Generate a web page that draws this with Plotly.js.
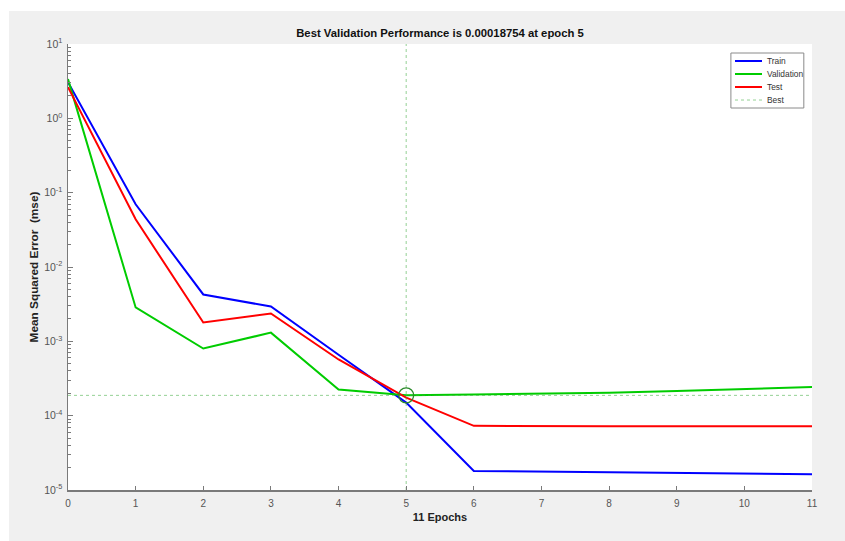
<!DOCTYPE html>
<html>
<head>
<meta charset="utf-8">
<script src="https://cdn.plot.ly/plotly-3.0.1.min.js"></script>
<style>
  html, body { margin: 0; padding: 0; background: #ffffff; }
  #chart { position: absolute; left: 9px; top: 11px; width: 836px; height: 530px; }
</style>
</head>
<body>
<div id="chart"></div>
<script>
// ---- data ----
const epochs = [0, 1, 2, 3, 4, 5, 6, 7, 8, 9, 10, 11];
const train = [3.07, 0.0698, 0.00427, 0.00294, 0.00066, 0.00015, 1.8e-5, 1.76e-5, 1.73e-5, 1.70e-5, 1.67e-5, 1.63e-5];
const validation = [3.37, 0.00286, 0.00080, 0.00131, 0.000225, 0.00018754, 0.000193, 0.000197, 0.000204, 0.000214, 0.000227, 0.000243];
const test = [2.63, 0.0438, 0.00179, 0.00237, 0.00057, 0.000175, 7.3e-5, 7.2e-5, 7.2e-5, 7.2e-5, 7.2e-5, 7.2e-5];
const bestEpoch = 5;
const bestValue = 0.00018754;
const seriesNames = ['Train', 'Validation', 'Test', 'Best'];
const xTickVals = [0, 1, 2, 3, 4, 5, 6, 7, 8, 9, 10, 11];
const yTickVals = [1e-5, 1e-4, 1e-3, 1e-2, 1e-1, 1e0, 1e1];
const yTickText = ['10<sup>-5</sup>', '10<sup>-4</sup>', '10<sup>-3</sup>', '10<sup>-2</sup>', '10<sup>-1</sup>', '10<sup>0</sup>', '10<sup>1</sup>'];
const titleText = 'Best Validation Performance is 0.00018754 at epoch 5';
const xTitle = '11 Epochs';
const yTitle = 'Mean Squared Error  (mse)';

// minor log ticks 2..9 per decade
const yMinor = [];
for (let e = -5; e < 1; e++) {
  for (let m = 2; m <= 9; m++) yMinor.push(m * Math.pow(10, e));
}

const font = 'Liberation Sans, Arial, Helvetica, sans-serif';
const axisColor = '#7a7a7a';
const bestColor = 'rgba(60,170,60,0.55)';
const seriesStyles = [
  { color: '#0000ff', width: 2, dash: 'solid' },
  { color: '#00cc00', width: 2, dash: 'solid' },
  { color: '#ff0000', width: 2, dash: 'solid' },
  { color: bestColor, width: 1, dash: 'dot' }
];

const traces = [
  { x: epochs, y: train, name: seriesNames[0], mode: 'lines', line: seriesStyles[0] },
  { x: epochs, y: validation, name: seriesNames[1], mode: 'lines', line: seriesStyles[1] },
  { x: epochs, y: test, name: seriesNames[2], mode: 'lines', line: seriesStyles[2] },
  { x: [epochs[0], epochs[epochs.length - 1]], y: [bestValue, bestValue], name: seriesNames[3], mode: 'lines',
    line: seriesStyles[3] },
  { x: [bestEpoch, bestEpoch], y: [yTickVals[0], yTickVals[yTickVals.length - 1]], mode: 'lines',
    line: seriesStyles[3], hoverinfo: 'skip' },
  { x: [bestEpoch], y: [bestValue], mode: 'markers',
    marker: { symbol: 'circle-open', size: 15, color: '#2a8a2a', line: { width: 1.3, color: '#2a8a2a' } } }
];

// ---- compact MATLAB-style legend box (paper coordinates) ----
const legBox = { x0: 0.891, x1: 0.989, y0: 0.8565, y1: 0.9798 };
const legRowY = [0.9619, 0.9327, 0.9036, 0.8744];
const legLineX = [0.8965, 0.9328];
const legTextX = 0.9368;
const shapes = [{
  type: 'rect', xref: 'paper', yref: 'paper',
  x0: legBox.x0, x1: legBox.x1, y0: legBox.y0, y1: legBox.y1,
  fillcolor: '#ffffff', line: { color: '#8a8a8a', width: 1 }, layer: 'above'
}];
const annotations = [];
seriesNames.forEach((nm, i) => {
  shapes.push({
    type: 'line', xref: 'paper', yref: 'paper',
    x0: legLineX[0], x1: legLineX[1], y0: legRowY[i], y1: legRowY[i],
    line: { color: seriesStyles[i].color, width: seriesStyles[i].width, dash: seriesStyles[i].dash }, layer: 'above'
  });
  annotations.push({
    xref: 'paper', yref: 'paper', x: legTextX, y: legRowY[i],
    xanchor: 'left', yanchor: 'middle', showarrow: false, text: nm,
    font: { family: font, size: 8.4, color: '#333333' }
  });
});

const layout = {
  width: 836, height: 530,
  paper_bgcolor: '#f0f0f0',
  plot_bgcolor: '#ffffff',
  margin: { l: 59, r: 33, t: 33, b: 51, pad: 0 },
  font: { family: font, size: 9, color: '#555555' },
  showlegend: false,
  title: {
    text: titleText,
    font: { family: font, size: 11.3, color: '#111111', weight: 'bold' },
    x: 0.5, xref: 'paper', xanchor: 'center',
    y: 1 - 22 / 530, yref: 'container', yanchor: 'middle'
  },
  xaxis: {
    range: [0, 11],
    tickmode: 'array', tickvals: xTickVals,
    ticks: 'inside', ticklen: 4, tickcolor: axisColor, tickwidth: 1,
    showline: true, linecolor: axisColor, linewidth: 1.5,
    showgrid: false, zeroline: false,
    ticklabelstandoff: 3,
    tickfont: { family: font, size: 10, color: '#555555' },
    title: { text: xTitle, standoff: 6, font: { family: font, size: 11, color: '#222222', weight: 'bold' } }
  },
  yaxis: {
    type: 'log', range: [-5, 1],
    tickmode: 'array', tickvals: yTickVals, ticktext: yTickText,
    ticks: 'inside', ticklen: 5, tickcolor: axisColor, tickwidth: 1,
    minor: { tickvals: yMinor, ticks: 'inside', ticklen: 3, tickcolor: axisColor, tickwidth: 1, showgrid: false },
    showline: true, linecolor: axisColor, linewidth: 1.5,
    showgrid: false, zeroline: false,
    ticklabelstandoff: 2,
    tickfont: { family: font, size: 10.5, color: '#555555' },
    title: { text: yTitle, standoff: 3, font: { family: font, size: 11.8, color: '#222222', weight: 'bold' } }
  },
  shapes: shapes,
  annotations: annotations
};

Plotly.newPlot('chart', traces, layout, { displayModeBar: false, staticPlot: true });
</script>
</body>
</html>
